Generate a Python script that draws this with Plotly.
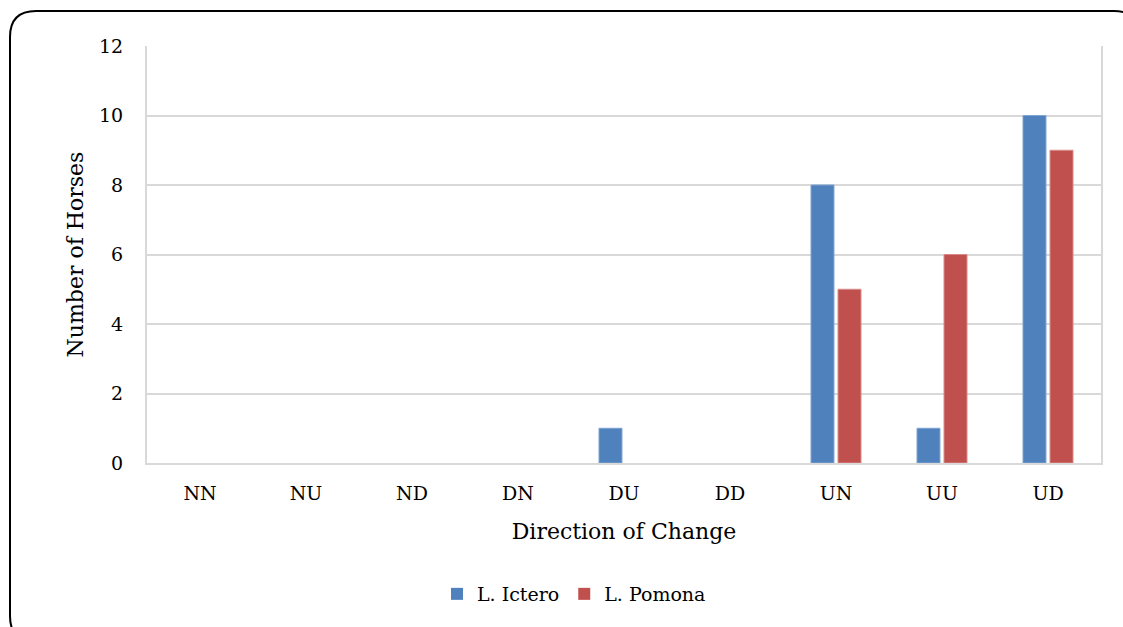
import plotly.graph_objects as go

categories = ["NN", "NU", "ND", "DN", "DU", "DD", "UN", "UU", "UD"]
ictero = [0, 0, 0, 0, 1, 0, 8, 1, 10]
pomona = [0, 0, 0, 0, 0, 0, 5, 6, 9]
y_ticks = [0, 2, 4, 6, 8, 10, 12]

W, H = 1123, 627
L, R, T, B = 147, 22, 46, 164
pw, ph = W - L - R, H - T - B

FONT = "DejaVu Serif"
GRID = "#d9d9d9"


def px(x):
    return (x - L) / pw


def py(y):
    return (H - B - y) / ph


def outline(values):
    # no outline on empty bars so nothing shows at zero
    return [0 if v == 0 else 1 for v in values]


fig = go.Figure()
fig.add_trace(go.Bar(
    x=categories, y=ictero, name="L. Ictero",
    marker=dict(color="#4f81bd",
                line=dict(color="#7fa3d3", width=outline(ictero))),
))
fig.add_trace(go.Bar(
    x=categories, y=pomona, name="L. Pomona",
    marker=dict(color="#c0504d",
                line=dict(color="#d98a88", width=outline(pomona))),
))

# rounded outer frame around the whole chart
x0, y0, x1, y1, r = 10, 11, 1140, 642, 26
path = (
    f"M {px(x0 + r)},{py(y0)} L {px(x1 - r)},{py(y0)} "
    f"Q {px(x1)},{py(y0)} {px(x1)},{py(y0 + r)} "
    f"L {px(x1)},{py(y1 - r)} Q {px(x1)},{py(y1)} {px(x1 - r)},{py(y1)} "
    f"L {px(x0 + r)},{py(y1)} Q {px(x0)},{py(y1)} {px(x0)},{py(y1 - r)} "
    f"L {px(x0)},{py(y0 + r)} Q {px(x0)},{py(y0)} {px(x0 + r)},{py(y0)} Z"
)
fig.add_shape(type="path", path=path, xref="paper", yref="paper",
              line=dict(color="black", width=2), layer="above")

fig.update_layout(
    width=W, height=H,
    margin=dict(l=L, r=R, t=T, b=B),
    paper_bgcolor="white", plot_bgcolor="white",
    font=dict(family=FONT, color="black", size=19),
    barmode="group", bargap=0.49, bargroupgap=0.15,
    showlegend=True,
    legend=dict(orientation="h", x=px(574), xanchor="center",
                y=py(594), yanchor="middle", font=dict(size=19),
                itemwidth=30, tracegroupgap=0),
    xaxis=dict(
        showline=True, linecolor=GRID, linewidth=2, ticks="",
        ticklabelstandoff=12,
        title=dict(text="Direction of Change", font=dict(size=22), standoff=21),
    ),
    yaxis=dict(
        range=[0, 12], tickvals=y_ticks, showgrid=True, gridcolor=GRID,
        gridwidth=2, showline=True, mirror=True, linecolor=GRID, linewidth=2,
        zeroline=False, ticks="", ticklabelstandoff=18,
        title=dict(text="Number of Horses", font=dict(size=22), standoff=9),
    ),
)

fig.write_html("out.html")
